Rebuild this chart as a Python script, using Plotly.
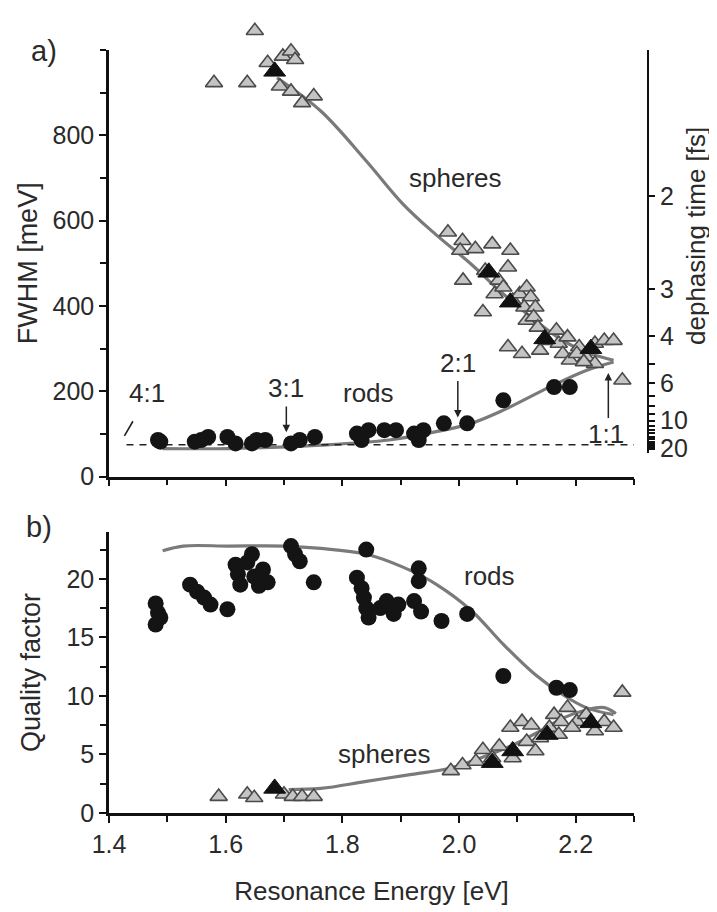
import plotly.graph_objects as go

# ---------------- data ----------------
# Panel a) FWHM [meV] vs resonance energy [eV]
sph_open_E = [1.580, 1.637, 1.650, 1.672, 1.698, 1.712, 1.719, 1.693, 1.712, 1.731, 1.751,
              1.981, 2.006, 2.002, 2.028, 2.007, 2.057, 2.088, 2.045, 2.041, 2.061, 2.068,
              2.076, 2.084, 2.092, 2.104, 2.116, 2.123, 2.112, 2.131, 2.116, 2.128, 2.135,
              2.084, 2.108, 2.139, 2.151, 2.167, 2.171, 2.186, 2.178, 2.190, 2.206, 2.218,
              2.233, 2.249, 2.265, 2.233, 2.202, 2.280, 2.214]
sph_open_G = [923, 923, 1045, 970, 985, 997, 977, 915, 903, 876, 892,
              573, 553, 530, 534, 460, 545, 530, 483, 386, 428, 460,
              444, 491, 413, 428, 444, 421, 397, 397, 366, 374, 350,
              304, 288, 296, 319, 343, 312, 327, 288, 273, 304, 280,
              312, 319, 319, 265, 288, 226, 269]
sph_fill_E = [1.684, 2.051, 2.088, 2.147, 2.226]
sph_fill_G = [950, 479, 409, 323, 300]

rod_E_a = [1.484, 1.488, 1.547, 1.558, 1.570, 1.603, 1.617, 1.645, 1.668, 1.653, 1.712,
           1.727, 1.753, 1.825, 1.833, 1.845, 1.872, 1.892, 1.923, 1.931, 1.939, 1.974,
           2.014, 2.076, 2.163, 2.190]
rod_G_a = [86, 82, 82, 86, 93, 93, 78, 78, 86, 86, 78,
           86, 93, 101, 86, 109, 109, 109, 101, 86, 109, 125,
           125, 179, 210, 210]

fit_sph_E_a = [1.688, 1.763, 1.841, 1.904, 1.959, 2.021, 2.076, 2.131, 2.178, 2.226, 2.265]
fit_sph_G_a = [935, 857, 740, 639, 569, 498, 428, 366, 319, 288, 273]
fit_rod_E_a = [1.492, 1.606, 1.763, 1.880, 1.959, 2.021, 2.076, 2.155, 2.218, 2.265]
fit_rod_G_a = [66, 66, 74, 86, 105, 125, 156, 210, 249, 269]

limit_E = [1.43, 2.30]
limit_G = [75, 75]

# Panel b) quality factor vs resonance energy [eV]
rod_E_b = [1.480, 1.484, 1.480, 1.488, 1.539, 1.551, 1.563, 1.574, 1.603, 1.617, 1.621,
           1.625, 1.637, 1.645, 1.649, 1.657, 1.672, 1.664, 1.712, 1.719, 1.727, 1.751,
           1.825, 1.833, 1.837, 1.841, 1.845, 1.841, 1.865, 1.876, 1.888, 1.896, 1.931,
           1.931, 1.923, 1.935, 1.970, 2.014, 2.076, 2.167, 2.190]
rod_Q_b = [17.9, 17.1, 16.1, 16.7, 19.5, 18.9, 18.4, 17.8, 17.4, 21.2, 20.4,
           19.5, 21.4, 22.1, 20.2, 19.4, 19.7, 20.8, 22.8, 22.1, 21.5, 19.7,
           20.1, 19.2, 18.4, 17.5, 16.7, 22.5, 17.5, 18.1, 17.0, 17.8, 20.9,
           19.8, 18.1, 17.2, 16.4, 17.0, 11.7, 10.7, 10.5]

sph_open_E_b = [1.588, 1.637, 1.649, 1.700, 1.715, 1.731, 1.751, 1.986, 2.006, 2.029, 2.041,
                2.057, 2.069, 2.088, 2.092, 2.108, 2.124, 2.116, 2.131, 2.139, 2.155, 2.163,
                2.175, 2.186, 2.202, 2.218, 2.233, 2.249, 2.265, 2.280, 2.171, 2.194]
sph_open_Q_b = [1.4, 1.6, 1.3, 1.6, 1.4, 1.4, 1.4, 3.6, 4.1, 4.4, 5.4,
                4.7, 5.7, 7.3, 4.7, 7.8, 7.5, 6.1, 5.3, 6.4, 7.3, 8.4,
                7.8, 9.0, 7.8, 8.4, 7.0, 7.8, 7.3, 10.3, 6.7, 7.3]
sph_fill_E_b = [1.684, 2.057, 2.092, 2.151, 2.226]
sph_fill_Q_b = [2.1, 4.3, 5.3, 6.7, 7.7]

fit_rod_E_b = [1.492, 1.527, 1.606, 1.700, 1.763, 1.841, 1.904, 1.959, 2.021, 2.076,
               2.131, 2.178, 2.218, 2.265]
fit_rod_Q_b = [22.4, 22.8, 22.8, 22.8, 22.6, 22.1, 21.0, 19.6, 17.3, 14.4,
               11.8, 10.1, 9.0, 8.4]
fit_sph_E_b = [1.708, 1.763, 1.841, 1.919, 1.982, 2.037, 2.092, 2.139, 2.178, 2.218, 2.249, 2.269]
fit_sph_Q_b = [2.0, 2.1, 2.7, 3.3, 3.8, 4.7, 5.8, 7.0, 8.1, 8.8, 9.0, 8.5]

# axis ticks
x_tickvals = [1.4, 1.6, 1.8, 2.0, 2.2]
x_ticktext = ["1.4", "1.6", "1.8", "2.0", "2.2"]
ya_tickvals = [0, 200, 400, 600, 800]
yb_tickvals = [0, 5, 10, 15, 20]
T2_ticks = [2, 3, 4, 5, 6, 7, 8, 9, 10, 11, 12, 13, 14, 15, 16, 17, 18, 19, 20]
T2_labels = {2: "2", 3: "3", 4: "4", 6: "6", 10: "10", 20: "20"}
HBAR = 658.2  # meV fs

# ---------------- style ----------------
FONT = "Liberation Sans"
FS_TICK = 25
FS_TITLE = 27
FS_ANN = 26
TXT = "#2a2a2a"
LINE_GRAY = "#7a7a7a"
TRI_FILL = "#c4c4c4"
TRI_EDGE = "#4a4a4a"

# page body has an 8px margin; reference pixel positions are shifted by it
OFF = 8
W, H = 717 - OFF, 912 - OFF
REF_L, REF_R, REF_T, REF_B = 109, 648, 14, 813   # REF_T: top of marker area
ML, MT = REF_L - OFF, REF_T - OFF
MR = W - (REF_R - OFF)
MB = H - (REF_B - OFF)
plot_w = REF_R - REF_L
plot_h = REF_B - REF_T
x_end = (634 - REF_L) / plot_w
def fy(px):
    return (REF_B - px) / plot_h
def fx(px):
    return (px - REF_L) / plot_w

dom_a = [fy(476.7), fy(50.0)]
dom_b = [0.0, fy(532.0)]
ya_range = [0, 1000]
yb_range = [0, 24]
span_a = dom_a[1] - dom_a[0]
# right axis spine ends higher (around 55 meV), same scale
dom_r = [fy(453.0), dom_a[1]]
r_lo = ya_range[1] * (dom_r[0] - dom_a[0]) / span_a
# hidden axis with the same scale, taller, so markers above 1000 meV stay visible
dom_m = [dom_a[0], 1.0]
m_hi = ya_range[1] * (dom_m[1] - dom_m[0]) / span_a

fig = go.Figure()

def tri_open(x, y, xa, ya):
    return go.Scatter(x=x, y=y, xaxis=xa, yaxis=ya, mode="markers", cliponaxis=False,
                      marker=dict(symbol="triangle-up", size=15, color=TRI_FILL,
                                  line=dict(color=TRI_EDGE, width=1.6)), showlegend=False)

def tri_fill(x, y, xa, ya):
    return go.Scatter(x=x, y=y, xaxis=xa, yaxis=ya, mode="markers", cliponaxis=False,
                      marker=dict(symbol="triangle-up", size=19, color="#111111",
                                  line=dict(color="#111111", width=1)), showlegend=False)

def dots(x, y, xa, ya):
    return go.Scatter(x=x, y=y, xaxis=xa, yaxis=ya, mode="markers", cliponaxis=False,
                      marker=dict(symbol="circle", size=16, color="#141414",
                                  line=dict(width=0)), showlegend=False)

def curve(x, y, xa, ya):
    return go.Scatter(x=x, y=y, xaxis=xa, yaxis=ya, mode="lines", line_shape="spline",
                      line=dict(color=LINE_GRAY, width=3.2), showlegend=False)

# panel a
fig.add_trace(curve(fit_sph_E_a, fit_sph_G_a, "x", "y"))
fig.add_trace(curve(fit_rod_E_a, fit_rod_G_a, "x", "y"))
fig.add_trace(go.Scatter(x=limit_E, y=limit_G, xaxis="x", yaxis="y3", mode="lines",
                         line=dict(color="#222222", width=1.6, dash="7px,6px"), showlegend=False))
fig.add_trace(tri_open(sph_open_E, sph_open_G, "x", "y4"))
fig.add_trace(tri_fill(sph_fill_E, sph_fill_G, "x", "y4"))
fig.add_trace(dots(rod_E_a, rod_G_a, "x", "y4"))

# panel b
fig.add_trace(curve(fit_rod_E_b, fit_rod_Q_b, "x2", "y2"))
fig.add_trace(curve(fit_sph_E_b, fit_sph_Q_b, "x2", "y2"))
fig.add_trace(dots(rod_E_b, rod_Q_b, "x2", "y2"))
fig.add_trace(tri_open(sph_open_E_b, sph_open_Q_b, "x2", "y2"))
fig.add_trace(tri_fill(sph_fill_E_b, sph_fill_Q_b, "x2", "y2"))

tickfont = dict(family=FONT, size=FS_TICK, color=TXT)
axis_common = dict(showline=True, linecolor="#111111", linewidth=2.5, ticks="outside",
                   ticklen=7, tickwidth=2, tickcolor="#111111", showgrid=False, zeroline=False,
                   tickfont=tickfont)
minor_common = dict(ticks="outside", ticklen=6, tickwidth=2, tickcolor="#111111")

fig.update_layout(
    width=W, height=H, margin=dict(l=ML, r=MR, t=MT, b=MB),
    paper_bgcolor="white", plot_bgcolor="rgba(0,0,0,0)", showlegend=False,
    font=dict(family=FONT, size=FS_TICK, color=TXT),
    xaxis=dict(domain=[0, x_end], anchor="y", range=[1.4, 2.3], tickvals=x_tickvals,
               showticklabels=False, minor=dict(tick0=1.4, dtick=0.1, **minor_common),
               **axis_common),
    yaxis=dict(domain=dom_a, anchor="x", range=ya_range, tickvals=ya_tickvals,
               minor=dict(tick0=0, dtick=100, **minor_common),
               title=dict(text="FWHM [meV]", font=dict(family=FONT, size=FS_TITLE, color=TXT),
                          standoff=8),
               **axis_common),
    yaxis3=dict(domain=dom_r, anchor="free", position=1.0, side="right",
                range=[r_lo, ya_range[1]],
                tickvals=[2 * HBAR / t for t in T2_ticks],
                ticktext=[T2_labels.get(t, "") for t in T2_ticks],
                showline=True, linecolor="#111111", linewidth=2, ticks="outside",
                ticklen=6, tickwidth=1.6, tickcolor="#111111", showgrid=False, zeroline=False,
                tickfont=tickfont),
    yaxis4=dict(domain=dom_m, anchor="x", range=[0, m_hi], visible=False,
                showgrid=False, zeroline=False),
    xaxis2=dict(domain=[0, x_end], anchor="y2", range=[1.4, 2.3], tickvals=x_tickvals,
                ticktext=x_ticktext, minor=dict(tick0=1.4, dtick=0.1, **minor_common),
                title=dict(text="Resonance Energy [eV]",
                           font=dict(family=FONT, size=26, color=TXT), standoff=26),
                **axis_common),
    yaxis2=dict(domain=dom_b, anchor="x2", range=yb_range, tickvals=yb_tickvals,
                minor=dict(tick0=0, dtick=2.5, **minor_common),
                title=dict(text="Quality factor", font=dict(family=FONT, size=FS_TITLE, color=TXT),
                           standoff=18),
                **axis_common),
)

ann_font = dict(family=FONT, size=FS_ANN, color=TXT)
lab_font = dict(family=FONT, size=29, color=TXT)
anns = [
    dict(text="a)", xref="paper", yref="paper", x=fx(44), y=fy(51), xanchor="center",
         yanchor="middle", showarrow=False, font=lab_font),
    dict(text="b)", xref="paper", yref="paper", x=fx(39), y=fy(527), xanchor="center",
         yanchor="middle", showarrow=False, font=lab_font),
    dict(text="dephasing time [fs]", xref="paper", yref="paper", x=fx(696), y=fy(236),
         xanchor="center", yanchor="middle", textangle=-90, showarrow=False,
         font=dict(family=FONT, size=26, color=TXT)),
    dict(text="spheres", xref="x", yref="y", x=1.994, y=701, showarrow=False, font=ann_font),
    dict(text="rods", xref="x", yref="y", x=1.845, y=197, showarrow=False, font=ann_font),
    dict(text="4:1", xref="x", yref="y", x=1.465, y=197, showarrow=False, font=ann_font),
    dict(text="3:1", xref="x", yref="y", x=1.704, y=208, showarrow=False, font=ann_font),
    dict(text="2:1", xref="x", yref="y", x=1.998, y=267, showarrow=False, font=ann_font),
    dict(text="1:1", xref="x", yref="y", x=2.252, y=100, showarrow=False, font=ann_font),
    dict(text="rods", xref="x2", yref="y2", x=2.053, y=20.2, showarrow=False, font=ann_font),
    dict(text="spheres", xref="x2", yref="y2", x=1.872, y=5.0, showarrow=False, font=ann_font),
    # leader line and arrows
    dict(text="", xref="x", yref="y", axref="x", ayref="y", x=1.441, y=130, ax=1.425, ay=92,
         showarrow=True, arrowhead=0, arrowwidth=1.6, arrowcolor="#222222"),
    dict(text="", xref="x", yref="y", axref="x", ayref="y", x=1.704, y=104, ax=1.704, ay=168,
         showarrow=True, arrowhead=2, arrowsize=1, arrowwidth=1.5, arrowcolor="#222222"),
    dict(text="", xref="x", yref="y", axref="x", ayref="y", x=1.998, y=139, ax=1.998, ay=228,
         showarrow=True, arrowhead=2, arrowsize=1, arrowwidth=1.5, arrowcolor="#222222"),
    dict(text="", xref="x", yref="y", axref="x", ayref="y", x=2.256, y=243, ax=2.256, ay=134,
         showarrow=True, arrowhead=2, arrowsize=1, arrowwidth=1.5, arrowcolor="#222222"),
]
fig.update_layout(annotations=anns)

fig.write_html("out.html")
